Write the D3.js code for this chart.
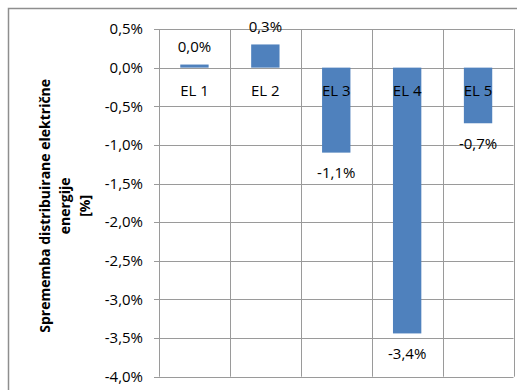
<!DOCTYPE html>
<html>
<head>
<meta charset="utf-8">
<script src="https://cdn.jsdelivr.net/npm/d3@7"></script>
<style>
  body { margin: 0; background: #fff; }
  text { font-family: "Open Sans", sans-serif; fill: #000; }
</style>
</head>
<body>
<div id="chart"></div>
<script>
        //data
        var categories = ["EL 1", "EL 2", "EL 3", "EL 4", "EL 5"];
        var values = [0.0004, 0.003, -0.011, -0.0344, -0.0072];
        var valueLabels = ["0,0%", "0,3%", "-1,1%", "-3,4%", "-0,7%"];
        var yTicks = [0.005, 0, -0.005, -0.01, -0.015, -0.02, -0.025, -0.03, -0.035, -0.04];
        var titleLines = ["Sprememba distribuirane električne", "energije", "[%]"];

        var W = 517, H = 390;
        var plot = {left: 159, right: 513.5, top: 29, bottom: 376.7};

        var locale = d3.formatLocale({decimal: ",", thousands: ".", grouping: [3], currency: ["", "€"], minus: "-"});
        var fmt = locale.format(".1%");

        var svg = d3.select("#chart").append("svg")
            .attr("width", W)
            .attr("height", H);

        //outer chart border (continues past the right and bottom edge)
        svg.append("rect")
            .attr("x", 8.5).attr("y", 8.5)
            .attr("width", W + 20).attr("height", H + 20)
            .attr("fill", "#fff")
            .attr("stroke", "#8e8e8e")
            .attr("stroke-width", 1.5);

        var x = d3.scaleBand()
            .domain(categories)
            .range([plot.left, plot.right])
            .padding(0);

        var y = d3.scaleLinear()
            .domain([-0.04, 0.005])
            .range([plot.bottom, plot.top]);

        //horizontal gridlines
        svg.append("g").selectAll("line")
            .data(yTicks)
            .enter().append("line")
            .attr("x1", plot.left - 5)
            .attr("x2", plot.right)
            .attr("y1", function(d) { return Math.round(y(d)) + 0.5; })
            .attr("y2", function(d) { return Math.round(y(d)) + 0.5; })
            .attr("stroke", "#9a9a9a");

        //vertical gridlines at category boundaries
        var bounds = categories.map(function(c) { return x(c); }).concat([plot.right]);
        svg.append("g").selectAll("line")
            .data(bounds)
            .enter().append("line")
            .attr("x1", function(d) { return Math.round(d) + 0.5; })
            .attr("x2", function(d) { return Math.round(d) + 0.5; })
            .attr("y1", plot.top)
            .attr("y2", plot.bottom)
            .attr("stroke", "#9a9a9a");

        //y tick labels
        svg.append("g").selectAll("text")
            .data(yTicks)
            .enter().append("text")
            .attr("x", 143)
            .attr("y", function(d) { return y(d); })
            .attr("dy", "0.35em")
            .attr("text-anchor", "end")
            .style("font-size", "15px")
            .text(function(d) { return fmt(d); });

        //bars
        var barW = x.bandwidth() * 0.4;
        svg.append("g").selectAll("rect")
            .data(values)
            .enter().append("rect")
            .attr("x", function(d, i) { return x(categories[i]) + (x.bandwidth() - barW) / 2; })
            .attr("width", barW)
            .attr("y", function(d) { return y(Math.max(0, d)); })
            .attr("height", function(d) { return Math.abs(y(d) - y(0)); })
            .attr("fill", "#4f81bd");

        //category labels just under the zero line
        svg.append("g").selectAll("text")
            .data(categories)
            .enter().append("text")
            .attr("x", function(d) { return x(d) + x.bandwidth() / 2; })
            .attr("y", y(0) + 23)
            .attr("dy", "0.35em")
            .attr("text-anchor", "middle")
            .style("font-size", "15px")
            .text(function(d) { return d; });

        //value labels
        svg.append("g").selectAll("text")
            .data(values)
            .enter().append("text")
            .attr("x", function(d, i) { return x(categories[i]) + x.bandwidth() / 2; })
            .attr("y", function(d) { return d >= 0 ? y(d) - 18 : y(d) + 20; })
            .attr("dy", "0.35em")
            .attr("text-anchor", "middle")
            .style("font-size", "15px")
            .text(function(d, i) { return valueLabels[i]; });

        //y axis title
        var title = svg.append("text")
            .attr("transform", "translate(45," + ((plot.top + plot.bottom) / 2 + 3) + ") rotate(-90)")
            .attr("text-anchor", "middle")
            .style("font-size", "14px")
            .style("font-weight", "bold");
        title.selectAll("tspan")
            .data(titleLines)
            .enter().append("tspan")
            .attr("x", 0)
            .attr("dy", function(d, i) { return i === 0 ? "0.35em" : "20px"; })
            .text(function(d) { return d; });
</script>
</body>
</html>
